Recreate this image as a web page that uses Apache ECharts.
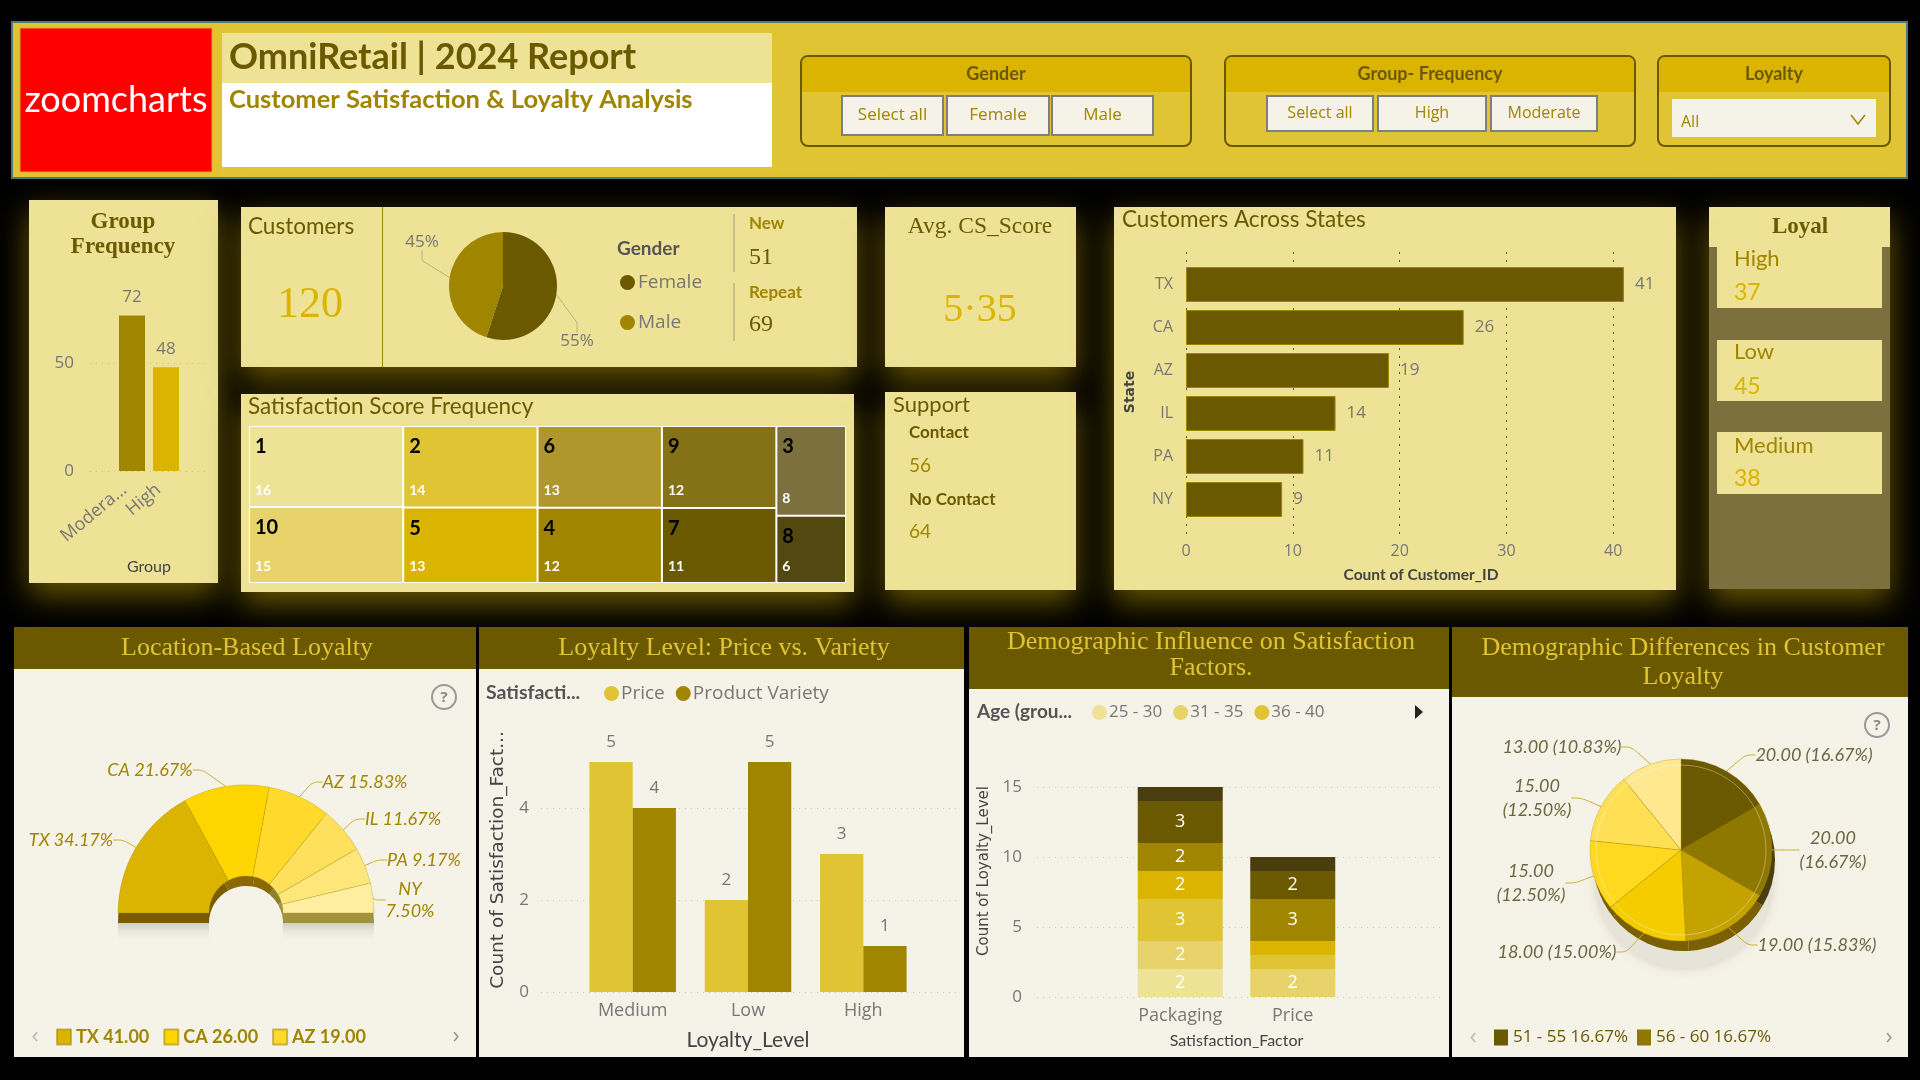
<!DOCTYPE html>
<html>
<head>
<meta charset="utf-8">
<title>OmniRetail | 2024 Report</title>
<style>
	html, body { margin: 0; padding: 0; background: #000; }
	#main { width: 1920px; height: 1080px; }
</style>
<script src="https://cdn.jsdelivr.net/npm/echarts@6/dist/echarts.min.js"></script>
</head>
<body>
<div id="main"></div>
<script>
// chart data
var groupNames = ['Moderate', 'High'];
var groupTicks = ['Modera...', 'High'];
var groupCounts = [72, 48];

var genderNames = ['Female', 'Male'];
var genderShares = [55, 45];

var scoreNames = ['1', '10', '2', '5', '6', '4', '9', '7', '3', '8'];
var scoreCounts = [16, 15, 14, 13, 13, 12, 12, 11, 8, 6];

var stateNames = ['TX', 'CA', 'AZ', 'IL', 'PA', 'NY'];
var stateCounts = [41, 26, 19, 14, 11, 9];

var loyaltyLevels = ['Medium', 'Low', 'High'];
var loyaltyPrice = [5, 2, 3];
var loyaltyVariety = [4, 5, 1];

var factorNames = ['Packaging', 'Price'];
var ageNames = ['25 - 30', '31 - 35', '36 - 40', '41 - 45', '46 - 50', '51 - 55', '56 - 60'];
var agePackaging = [2, 2, 3, 2, 2, 3, 1];
var agePrice = [0, 2, 1, 1, 3, 2, 1];

var agePieNames = ['51 - 55', '56 - 60', '46 - 50', '36 - 40', '41 - 45', '31 - 35', '25 - 30'];
var agePieCounts = [20, 20, 19, 18, 15, 15, 13];

// palette
var DARK = '#6B5900', OLIVE = '#A08500', GOLD = '#DAB400', YELLOW = '#E0C433', CREAM = '#EEE296', PAPER = '#F5F2E8', GREY = '#777777', INK = '#444444';
var scoreColors = ['#EEE296', '#E8D36B', '#E0C433', '#DAB400', '#AF962D', '#A08500', '#857116', '#6B5900', '#7C703F', '#534810'];
var ageColors = ['#EEE296', '#E8D36B', '#E0C433', '#DAB400', '#A08500', '#6B5900', '#4A3D10'];
var stateColors = ['#DAB400', '#FFD500', '#FFDA2D', '#FFE05C', '#FFE67A', '#FFEDA0'];
var stateDepthColors = ['#7A5C00', '#8A6A00', '#8A6A00', '#8F8030', '#A0923F', '#A0923F'];
var agePieColors = ['#6B5900', '#8F7800', '#C4A300', '#F5CC00', '#FFD91F', '#FFE055', '#FFE88F'];

var SANS = 'Lato, sans-serif';
var UI = '"Open Sans", sans-serif';
var SERIF = '"Liberation Serif", serif';
var WIDE = '"DejaVu Sans", sans-serif';

var graphics = [], grids = [], xAxes = [], yAxes = [], series = [], legends = [];

function sum(list) {
	return list.reduce(function(a, b) { return a + b; }, 0);
}

// ---- drawing helpers for panels and text ----
function box(x0, y0, x1, y1, fill, extra) {
	var style = { fill: fill };
	for (var k in extra) { if (k !== 'r') style[k] = extra[k]; }
	graphics.push({
		type: 'rect', z: 1,
		shape: { x: x0, y: y0, width: x1 - x0, height: y1 - y0, r: (extra && extra.r) || 0 },
		style: style, silent: true
	});
}

function panel(x0, y0, x1, y1) {
	box(x0, y0, x1, y1, CREAM, { shadowColor: 'rgba(125,103,0,0.85)', shadowBlur: 30, shadowOffsetY: 12 });
}

function txt(x, y, text, size, color, font, weight, align) {
	graphics.push({
		type: 'text', z: 5, silent: true,
		style: {
			x: x, y: y, text: text, fontSize: size, fill: color, fontFamily: font || SANS,
			fontWeight: weight || 'normal', align: align || 'left', verticalAlign: 'middle'
		}
	});
}

// rotated axis title, reads bottom to top
function sideTitle(x, y, text, size, weight) {
	graphics.push({
		type: 'text', z: 5, silent: true, x: x, y: y, rotation: Math.PI / 2,
		style: { text: text, fontSize: size, fontWeight: weight || 'normal', fontFamily: WIDE, fill: INK, align: 'center', verticalAlign: 'middle' }
	});
}

function button(x0, y0, x1, y1, label, size) {
	box(x0, y0, x1, y1, PAPER, { stroke: '#7F7F7F', lineWidth: 2 });
	txt((x0 + x1) / 2, (y0 + y1) / 2, label, size, OLIVE, UI, 'normal', 'center');
}

function slicer(x0, x1, title) {
	box(x0, 56, x1, 146, YELLOW, { stroke: DARK, lineWidth: 2, r: 7 });
	box(x0 + 1, 57, x1 - 1, 92, GOLD, { r: [6, 6, 0, 0] });
	txt((x0 + x1) / 2, 74, title, 18, DARK, SANS, 'bold', 'center');
}

function helpIcon(x, y) {
	graphics.push({
		type: 'circle', z: 5, silent: true, shape: { cx: x, cy: y, r: 12 },
		style: { fill: 'none', stroke: '#999999', lineWidth: 2 }
	});
	txt(x, y + 1, '?', 15, '#888888', UI, 'bold', 'center');
}

function pager(x0, x1, y) {
	txt(x0, y, '\u2039', 24, '#BBBBBB', UI, 'normal', 'center');
	txt(x1, y, '\u203A', 24, '#999999', UI, 'normal', 'center');
}

// ---- axes ----
function addGrid(x0, y0, x1, y1, xAxis, yAxis) {
	var index = grids.length;
	grids.push({ left: x0, top: y0, width: x1 - x0, height: y1 - y0 });
	xAxis.gridIndex = index;
	yAxis.gridIndex = index;
	// axes default to z 0, keep them above the panel rectangles
	xAxis.z = 2;
	yAxis.z = 2;
	xAxes.push(xAxis);
	yAxes.push(yAxis);
	return index;
}

function hiddenAxis(min, max) {
	return { type: 'value', show: false, min: min, max: max };
}

function valueAxis(max, interval, margin, lineColor, dash) {
	return {
		type: 'value', min: 0, max: max, interval: interval,
		axisLine: { show: false }, axisTick: { show: false },
		axisLabel: { show: true, showMaxLabel: false, color: GREY, fontSize: 17, fontFamily: UI, margin: margin },
		splitLine: { show: true, showMaxLine: false, lineStyle: { color: lineColor, type: dash, width: 1 } }
	};
}

function categoryAxis(names, margin, size) {
	return {
		type: 'category', data: names,
		axisLine: { show: false }, axisTick: { show: false },
		axisLabel: { color: GREY, fontSize: size, fontFamily: UI, margin: margin, interval: 0 }
	};
}

function barLabel(size, position, distance) {
	return { show: true, position: position, distance: distance, color: GREY, fontSize: size, fontFamily: UI };
}

// ---- top banner ----
function initHeader() {
	box(12, 22, 1907, 178, YELLOW, { stroke: '#4A7A80', lineWidth: 2 });
	box(20, 28, 212, 172, '#FF0000', { stroke: '#E8A020', lineWidth: 1 });
	txt(116, 100, 'zoomcharts', 36, '#FFFFFF', SANS, 'normal', 'center');
	box(222, 33, 772, 167, '#FFFFFF');
	box(222, 33, 772, 83, CREAM);
	txt(229, 57, 'OmniRetail | 2024 Report', 36, DARK, SANS, 'bold');
	txt(229, 100, 'Customer Satisfaction & Loyalty Analysis', 25.5, OLIVE, SANS, 'bold');

	slicer(801, 1191, 'Gender');
	button(842, 96, 943, 135, 'Select all', 17);
	button(947, 96, 1049, 135, 'Female', 17);
	button(1052, 96, 1153, 135, 'Male', 17);

	slicer(1225, 1635, 'Group- Frequency');
	button(1267, 96, 1373, 131, 'Select all', 16);
	button(1378, 96, 1486, 131, 'High', 16);
	button(1491, 96, 1597, 131, 'Moderate', 16);

	slicer(1658, 1890, 'Loyalty');
	box(1672, 99, 1876, 137, PAPER);
	txt(1681, 122, 'All', 16, OLIVE, UI);
	graphics.push({
		type: 'polyline', z: 5, silent: true,
		shape: { points: [[1851, 115], [1858, 124], [1865, 115]] },
		style: { fill: 'none', stroke: OLIVE, lineWidth: 1.5 }
	});
}

// ---- group frequency bars ----
function initGroupChart() {
	panel(29, 200, 218, 583);
	txt(123, 222, 'Group', 23, DARK, SERIF, 'bold', 'center');
	txt(123, 247, 'Frequency', 23, DARK, SERIF, 'bold', 'center');

	addGrid(90, 255, 205, 471, hiddenAxis(0, 1), valueAxis(100, 50, 16, '#CFC27A', [1, 5]));

	var axis = categoryAxis(groupNames, 10, 18);
	axis.axisLabel.rotate = 40;
	axis.axisLabel.padding = [0, 10, 0, 0];
	axis.axisLabel.formatter = function(value, i) { return groupTicks[i]; };
	axis.name = 'Group';
	axis.nameLocation = 'middle';
	axis.nameGap = 88;
	axis.nameTextStyle = { color: INK, fontSize: 16, fontFamily: SANS };
	var index = addGrid(115, 255, 183, 471, axis, hiddenAxis(0, 100));
	series.push({
		type: 'bar', xAxisIndex: index, yAxisIndex: index, barWidth: 26, z: 3,
		data: groupCounts.map(function(v, i) {
			return { value: v, itemStyle: { color: i === 0 ? OLIVE : GOLD } };
		}),
		label: barLabel(17, 'top', 10)
	});
}

// ---- customers, gender pie, new / repeat ----
function initCustomers() {
	panel(241, 207, 857, 367);
	box(382, 207, 383, 367, OLIVE);
	txt(248, 227, 'Customers', 22.5, DARK, SANS);
	txt(310, 305, '120', 44, GOLD, SERIF, 'normal', 'center');

	var labelSpots = [[577, 341], [422, 242]];
	series.push({
		type: 'pie', center: [503, 286], radius: [0, 54], startAngle: 90, z: 3, silent: true,
		data: genderNames.map(function(name, i) {
			return { name: name, value: genderShares[i], itemStyle: { color: i === 0 ? DARK : OLIVE } };
		}),
		label: { color: GREY, fontSize: 17, fontFamily: UI, formatter: '{c}%' },
		labelLine: { show: true, length: 8, length2: 10, lineStyle: { color: '#BDB27A' } },
		labelLayout: function(p) {
			return { x: labelSpots[p.dataIndex][0], y: labelSpots[p.dataIndex][1], align: 'center', verticalAlign: 'middle' };
		}
	});

	txt(617, 249, 'Gender', 19, '#555555', SANS, 'bold');
	legends.push({
		data: genderNames, left: 615, top: 268, orient: 'vertical', icon: 'circle', selectedMode: false,
		itemWidth: 15, itemHeight: 15, itemGap: 21,
		textStyle: { color: GREY, fontSize: 19, fontFamily: UI, padding: [0, 0, 0, -2] }
	});

	box(733, 214, 735, 272, '#C9BE8A');
	box(733, 283, 735, 341, '#C9BE8A');
	txt(749, 224, 'New', 17, OLIVE, SANS, 'bold');
	txt(749, 258, '51', 24, DARK, SERIF);
	txt(749, 293, 'Repeat', 17, OLIVE, SANS, 'bold');
	txt(749, 325, '69', 24, DARK, SERIF);
}

// ---- satisfaction treemap ----
function initTreemap() {
	var height = 157;
	panel(241, 394, 854, 592);
	txt(248, 407, 'Satisfaction Score Frequency', 22.5, DARK, SANS);

	series.push({
		type: 'treemap', left: 249, top: 426, width: 597, height: height, z: 3,
		roam: false, nodeClick: false, silent: true, breadcrumb: { show: false }, sort: false,
		levels: [{ itemStyle: { borderWidth: 1, gapWidth: 2, borderColor: '#FFFFFF' } }],
		data: scoreNames.map(function(name, i) {
			// the layout stacks the values two by two, so the cell height follows from its partner
			var partner = scoreCounts[i % 2 ? i - 1 : i + 1];
			var cell = height * scoreCounts[i] / (scoreCounts[i] + partner);
			return {
				name: name, value: scoreCounts[i], itemStyle: { color: scoreColors[i] },
				label: {
					show: true, position: 'insideTopLeft', distance: 0, padding: [3, 5, 0, 5],
					overflow: 'none', lineOverflow: 'none',
					formatter: '{n|' + name + '}\n{v|' + scoreCounts[i] + '}',
					rich: {
						n: { color: '#000000', fontSize: 20, fontWeight: 'bold', fontFamily: SANS, lineHeight: cell - 28, verticalAlign: 'top', padding: [7, 0, 0, 0] },
						v: { color: '#FFFFFF', fontSize: 14, fontWeight: 'bold', fontFamily: SANS, lineHeight: 14 }
					}
				}
			};
		})
	});
}

// ---- average score and support cards ----
function initCards() {
	panel(885, 207, 1076, 367);
	txt(980, 227, 'Avg. CS_Score', 23.5, DARK, SERIF, 'normal', 'center');
	txt(980, 310, '5\u00B735', 40, GOLD, SERIF, 'normal', 'center');

	panel(885, 392, 1076, 590);
	txt(893, 405, 'Support', 22, DARK, SANS);
	txt(909, 433, 'Contact', 17, DARK, SANS, 'bold');
	txt(909, 466, '56', 19, OLIVE, SANS);
	txt(909, 500, 'No Contact', 17, DARK, SANS, 'bold');
	txt(909, 532, '64', 19, OLIVE, SANS);

	// loyal column
	box(1709, 207, 1890, 589, '#7C703F', { shadowColor: 'rgba(125,103,0,0.85)', shadowBlur: 30, shadowOffsetY: 12 });
	box(1709, 207, 1890, 247, CREAM);
	box(1717, 247, 1882, 308, CREAM);
	box(1717, 340, 1882, 401, CREAM);
	box(1717, 432, 1882, 494, CREAM);
	txt(1800, 227, 'Loyal', 23, DARK, SERIF, 'bold', 'center');
	txt(1734, 259, 'High', 22, OLIVE, SANS);
	txt(1734, 293, '37', 23, GOLD, SANS);
	txt(1734, 352, 'Low', 22, OLIVE, SANS);
	txt(1734, 387, '45', 23, GOLD, SANS);
	txt(1734, 446, 'Medium', 22, OLIVE, SANS);
	txt(1734, 479, '38', 23, GOLD, SANS);
}

// ---- customers across states ----
function initStateBars() {
	panel(1114, 207, 1676, 590);
	txt(1122, 220, 'Customers Across States', 22.5, DARK, SANS);
	sideTitle(1130, 392, 'State', 14, 'bold');

	var guide = valueAxis(44, 10, 8, DARK, [2, 6]);
	guide.axisLabel.fontSize = 16;
	guide.name = 'Count of Customer_ID';
	guide.nameLocation = 'middle';
	guide.nameGap = 32;
	guide.nameTextStyle = { color: INK, fontSize: 15.5, fontFamily: SANS, fontWeight: 'bold' };
	addGrid(1186, 252, 1656, 535, guide, { type: 'category', show: false, data: stateNames });

	var yCats = categoryAxis(stateNames, 13, 16);
	yCats.inverse = true;
	var index = addGrid(1186, 263, 1656, 521, hiddenAxis(0, 44), yCats);
	series.push({
		type: 'bar', xAxisIndex: index, yAxisIndex: index, barWidth: 35, z: 3, data: stateCounts,
		itemStyle: { color: DARK, borderColor: OLIVE, borderWidth: 1 },
		label: barLabel(17, 'right', 11)
	});
}

// ---- location based half donut ----
function initLocationPie() {
	box(14, 627, 476, 1057, PAPER);
	box(14, 627, 476, 669, DARK);
	txt(247, 648, 'Location-Based Loyalty', 26, YELLOW, SERIF, 'normal', 'center');
	helpIcon(444, 697);

	var total = sum(stateCounts);
	var spots = [[71, 840], [150, 770], [365, 782], [403, 819], [424, 860], [410, 900]];

	// soft shadow under the flat edge
	[[118, 209], [283, 374]].forEach(function(span) {
		graphics.push({
			type: 'rect', z: 2, silent: true,
			shape: { x: span[0], y: 923, width: span[1] - span[0], height: 20 },
			style: { fill: new echarts.graphic.LinearGradient(0, 0, 0, 1, [
				{ offset: 0, color: '#CFCDC3' }, { offset: 1, color: 'rgba(245,242,232,0)' }
			]) }
		});
	});

	series.push({
		type: 'pie', center: [246, 923], radius: [37, 128], startAngle: 180, endAngle: 0, z: 3, silent: true,
		label: { show: false }, labelLine: { show: false },
		data: stateNames.map(function(name, i) {
			return { name: 'depth ' + name, value: stateCounts[i], itemStyle: { color: stateDepthColors[i] } };
		})
	});
	series.push({
		type: 'pie', center: [246, 913], radius: [37, 128], startAngle: 180, endAngle: 0, z: 4, silent: true,
		itemStyle: { borderColor: 'rgba(160,133,0,0.55)', borderWidth: 0.5 },
		data: stateNames.map(function(name, i) {
			return { name: name, value: stateCounts[i], itemStyle: { color: stateColors[i] } };
		}),
		label: {
			color: OLIVE, fontSize: 18, fontStyle: 'italic', fontFamily: SANS, lineHeight: 22,
			formatter: function(p) {
				var share = (p.value / total * 100).toFixed(2) + '%';
				return p.dataIndex === 5 ? p.name + '\n' + share : p.name + ' ' + share;
			}
		},
		labelLine: { show: true, length: 10, length2: 10, smooth: true, lineStyle: { color: '#C9AE2A' } },
		labelLayout: function(p) {
			return { x: spots[p.dataIndex][0], y: spots[p.dataIndex][1], align: 'center', verticalAlign: 'middle' };
		}
	});

	legends.push({
		data: stateNames.slice(0, 3), left: 51, top: 1023, icon: 'rect', selectedMode: false,
		itemWidth: 14, itemHeight: 15, itemGap: 14,
		formatter: function(name) { return name + ' ' + stateCounts[stateNames.indexOf(name)].toFixed(2); },
		textStyle: { color: OLIVE, fontSize: 18, fontWeight: 'bold', fontFamily: SANS }
	});
	pager(35, 456, 1036);
}

// ---- price vs variety columns ----
function initLoyaltyBars() {
	box(479, 627, 964, 1057, PAPER);
	box(479, 627, 964, 669, DARK);
	txt(724, 648, 'Loyalty Level: Price vs. Variety', 26, YELLOW, SERIF, 'normal', 'center');
	txt(486, 693, 'Satisfacti...', 19.5, '#555555', SANS, 'bold');
	sideTitle(498, 860, 'Count of Satisfaction_Fact...', 18.5);

	addGrid(541, 716, 956, 992, hiddenAxis(0, 1), valueAxis(6, 2, 12, '#CFCBB8', [1, 5]));

	var cats = categoryAxis(loyaltyLevels, 10, 18);
	cats.name = 'Loyalty_Level';
	cats.nameLocation = 'middle';
	cats.nameGap = 38;
	cats.nameTextStyle = { color: INK, fontSize: 21, fontFamily: SANS };
	var index = addGrid(575, 716, 921, 992, cats, hiddenAxis(0, 6));
	[['Price', loyaltyPrice, YELLOW], ['Product Variety', loyaltyVariety, OLIVE]].forEach(function(s) {
		series.push({
			type: 'bar', name: s[0], data: s[1], xAxisIndex: index, yAxisIndex: index, z: 3,
			barGap: 0, barCategoryGap: '25%', itemStyle: { color: s[2] }, label: barLabel(17, 'top', 11)
		});
	});
	legends.push({
		data: ['Price', 'Product Variety'], left: 599, top: 679, icon: 'circle', selectedMode: false,
		itemWidth: 15, itemHeight: 15, itemGap: 11,
		textStyle: { color: GREY, fontSize: 19, fontFamily: UI, padding: [0, 0, 0, -3] }
	});
}

// ---- stacked age columns ----
function initAgeStack() {
	box(969, 627, 1449, 1057, PAPER);
	box(969, 627, 1449, 689, DARK);
	txt(1211, 642, 'Demographic Influence on Satisfaction', 26, YELLOW, SERIF, 'normal', 'center');
	txt(1211, 668, 'Factors.', 26, YELLOW, SERIF, 'normal', 'center');
	txt(977, 712, 'Age (grou...', 19, '#555555', SANS, 'bold');
	sideTitle(984, 871, 'Count of Loyalty_Level', 15);

	addGrid(1037, 717, 1441, 997, hiddenAxis(0, 1), valueAxis(20, 5, 15, '#CFCBB8', [1, 5]));

	var cats = categoryAxis(factorNames, 10, 18);
	cats.name = 'Satisfaction_Factor';
	cats.nameLocation = 'middle';
	cats.nameGap = 36;
	cats.nameTextStyle = { color: INK, fontSize: 16, fontFamily: SANS };
	var index = addGrid(1124, 717, 1349, 997, cats, hiddenAxis(0, 20));

	ageNames.forEach(function(name, i) {
		series.push({
			type: 'bar', name: name, stack: 'age', barWidth: 85, xAxisIndex: index, yAxisIndex: index, z: 3,
			data: [agePackaging[i], agePrice[i]], itemStyle: { color: ageColors[i] },
			label: {
				show: true, position: 'inside', color: '#FFFFFF', fontSize: 18, fontFamily: UI,
				formatter: function(p) { return p.value >= 2 ? p.value : ''; }
			}
		});
	});
	// invisible line that carries the stack totals
	series.push({
		type: 'line', name: 'Total', xAxisIndex: index, yAxisIndex: index, z: 4,
		data: [sum(agePackaging), sum(agePrice)], symbol: 'none', lineStyle: { opacity: 0 },
		label: barLabel(18, 'top', 8)
	});

	legends.push({
		data: ageNames.slice(0, 3), left: 1087, top: 699, icon: 'circle', selectedMode: false,
		itemWidth: 15, itemHeight: 15, itemGap: 11,
		textStyle: { color: GREY, fontSize: 17, fontFamily: UI, padding: [0, 0, 0, -3] }
	});
	graphics.push({
		type: 'polygon', z: 5, silent: true,
		shape: { points: [[1415, 705], [1423, 712], [1415, 719]] }, style: { fill: '#222222' }
	});
}

// ---- age share pie ----
function initAgePie() {
	box(1452, 627, 1908, 1057, PAPER);
	box(1452, 627, 1908, 697, DARK);
	txt(1683, 648, 'Demographic Differences in Customer', 26, YELLOW, SERIF, 'normal', 'center');
	txt(1683, 677, 'Loyalty', 26, YELLOW, SERIF, 'normal', 'center');
	helpIcon(1877, 725);

	var total = sum(agePieCounts);
	var spots = [[1814, 755], [1833, 850], [1817, 945], [1557, 952], [1531, 883], [1537, 798], [1562, 747]];
	var wrapped = [1, 4, 5];

	graphics.push({
		type: 'ellipse', z: 2, silent: true, shape: { cx: 1684, cy: 880, rx: 88, ry: 88 },
		style: { fill: '#E6E4D8', shadowColor: 'rgba(180,175,150,0.5)', shadowBlur: 12 }
	});
	series.push({
		type: 'pie', center: [1684, 860], radius: [0, 91], startAngle: 90, z: 3, silent: true,
		label: { show: false }, labelLine: { show: false },
		data: agePieCounts.map(function(v, i) {
			return { name: 'depth ' + agePieNames[i], value: v, itemStyle: { color: i < 2 ? '#4A3D10' : '#7A6000' } };
		})
	});
	series.push({
		type: 'pie', center: [1681, 850], radius: [0, 91], startAngle: 90, z: 4, silent: true,
		itemStyle: { borderColor: 'rgba(160,133,0,0.6)', borderWidth: 0.5 },
		data: agePieNames.map(function(name, i) {
			return { name: name, value: agePieCounts[i], itemStyle: { color: agePieColors[i] } };
		}),
		label: {
			color: '#6E6640', fontSize: 18, fontStyle: 'italic', fontFamily: SANS, lineHeight: 24,
			formatter: function(p) {
				var text = p.value.toFixed(2);
				var share = '(' + (p.value / total * 100).toFixed(2) + '%)';
				return wrapped.indexOf(p.dataIndex) >= 0 ? text + '\n' + share : text + ' ' + share;
			}
		},
		labelLine: { show: true, length: 10, length2: 10, smooth: true, lineStyle: { color: '#C9AE2A' } },
		labelLayout: function(p) {
			return { x: spots[p.dataIndex][0], y: spots[p.dataIndex][1], align: 'center', verticalAlign: 'middle' };
		}
	});
	graphics.push({
		type: 'circle', z: 6, silent: true, shape: { cx: 1681, cy: 850, r: 85 },
		style: { fill: 'none', stroke: 'rgba(255,255,255,0.35)', lineWidth: 1 }
	});

	legends.push({
		data: [
			{ name: agePieNames[0], itemStyle: { color: agePieColors[0] } },
			{ name: agePieNames[1], itemStyle: { color: agePieColors[1] } }
		],
		left: 1489, top: 1024, icon: 'rect', selectedMode: false,
		itemWidth: 14, itemHeight: 16, itemGap: 9,
		formatter: function(name) {
			return name + ' ' + (agePieCounts[agePieNames.indexOf(name)] / total * 100).toFixed(2) + '%';
		},
		textStyle: { color: DARK, fontSize: 17, fontFamily: UI }
	});
	pager(1473, 1889, 1037);
}

function init() {
	initHeader();
	initGroupChart();
	initCustomers();
	initTreemap();
	initCards();
	initStateBars();
	initLocationPie();
	initLoyaltyBars();
	initAgeStack();
	initAgePie();

	var myChart = echarts.init(document.getElementById('main'));
	myChart.setOption({
		backgroundColor: '#000000',
		animation: false,
		tooltip: { show: false },
		graphic: { elements: graphics },
		legend: legends,
		grid: grids,
		xAxis: xAxes,
		yAxis: yAxes,
		series: series
	});
}

init();
</script>
</body>
</html>
